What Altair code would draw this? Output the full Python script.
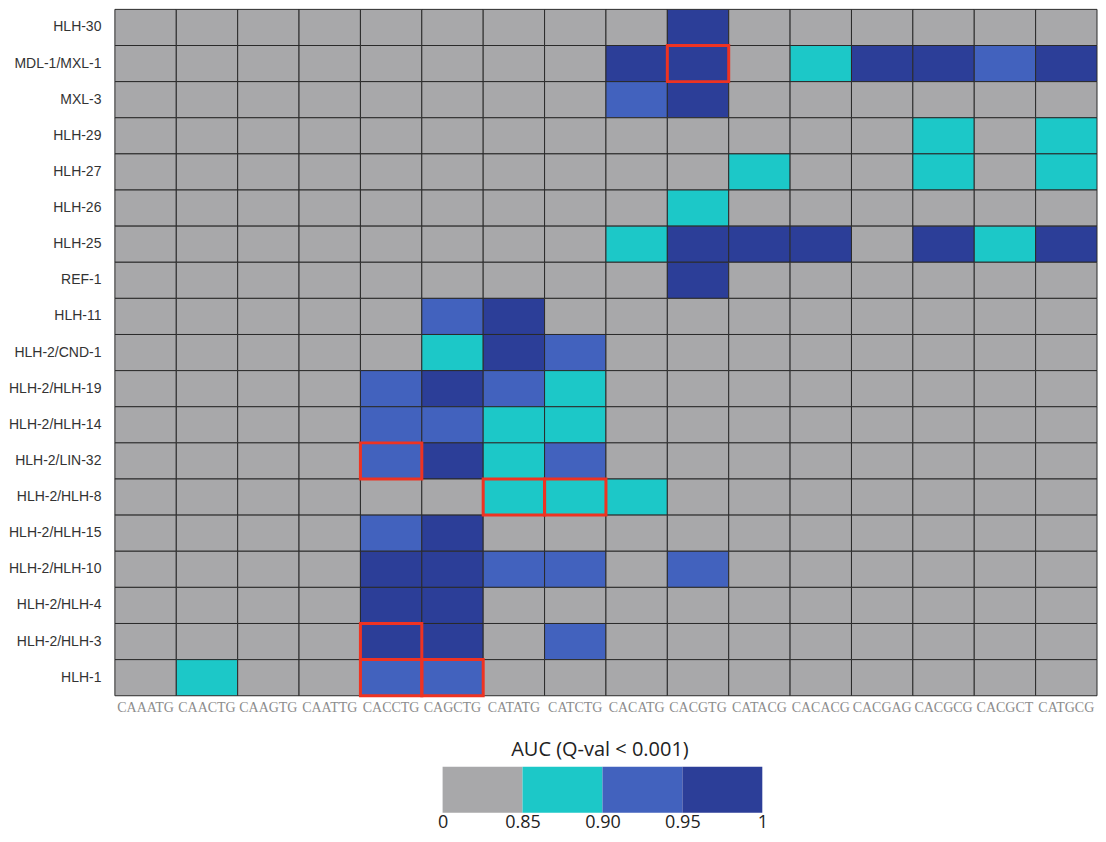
import altair as alt
import pandas as pd

motifs = ["CAAATG", "CAACTG", "CAAGTG", "CAATTG", "CACCTG", "CAGCTG", "CATATG", "CATCTG",
          "CACATG", "CACGTG", "CATACG", "CACACG", "CACGAG", "CACGCG", "CACGCT", "CATGCG"]
factors = ["HLH-30", "MDL-1/MXL-1", "MXL-3", "HLH-29", "HLH-27", "HLH-26", "HLH-25", "REF-1",
           "HLH-11", "HLH-2/CND-1", "HLH-2/HLH-19", "HLH-2/HLH-14", "HLH-2/LIN-32", "HLH-2/HLH-8",
           "HLH-2/HLH-15", "HLH-2/HLH-10", "HLH-2/HLH-4", "HLH-2/HLH-3", "HLH-1"]

# AUC bin per cell: 0 = below 0.85, 1 = 0.85-0.90, 2 = 0.90-0.95, 3 = 0.95-1
auc_bins = [
    [0, 0, 0, 0, 0, 0, 0, 0, 0, 3, 0, 0, 0, 0, 0, 0],  # HLH-30
    [0, 0, 0, 0, 0, 0, 0, 0, 3, 3, 0, 1, 3, 3, 2, 3],  # MDL-1/MXL-1
    [0, 0, 0, 0, 0, 0, 0, 0, 2, 3, 0, 0, 0, 0, 0, 0],  # MXL-3
    [0, 0, 0, 0, 0, 0, 0, 0, 0, 0, 0, 0, 0, 1, 0, 1],  # HLH-29
    [0, 0, 0, 0, 0, 0, 0, 0, 0, 0, 1, 0, 0, 1, 0, 1],  # HLH-27
    [0, 0, 0, 0, 0, 0, 0, 0, 0, 1, 0, 0, 0, 0, 0, 0],  # HLH-26
    [0, 0, 0, 0, 0, 0, 0, 0, 1, 3, 3, 3, 0, 3, 1, 3],  # HLH-25
    [0, 0, 0, 0, 0, 0, 0, 0, 0, 3, 0, 0, 0, 0, 0, 0],  # REF-1
    [0, 0, 0, 0, 0, 2, 3, 0, 0, 0, 0, 0, 0, 0, 0, 0],  # HLH-11
    [0, 0, 0, 0, 0, 1, 3, 2, 0, 0, 0, 0, 0, 0, 0, 0],  # HLH-2/CND-1
    [0, 0, 0, 0, 2, 3, 2, 1, 0, 0, 0, 0, 0, 0, 0, 0],  # HLH-2/HLH-19
    [0, 0, 0, 0, 2, 2, 1, 1, 0, 0, 0, 0, 0, 0, 0, 0],  # HLH-2/HLH-14
    [0, 0, 0, 0, 2, 3, 1, 2, 0, 0, 0, 0, 0, 0, 0, 0],  # HLH-2/LIN-32
    [0, 0, 0, 0, 0, 0, 1, 1, 1, 0, 0, 0, 0, 0, 0, 0],  # HLH-2/HLH-8
    [0, 0, 0, 0, 2, 3, 0, 0, 0, 0, 0, 0, 0, 0, 0, 0],  # HLH-2/HLH-15
    [0, 0, 0, 0, 3, 3, 2, 2, 0, 2, 0, 0, 0, 0, 0, 0],  # HLH-2/HLH-10
    [0, 0, 0, 0, 3, 3, 0, 0, 0, 0, 0, 0, 0, 0, 0, 0],  # HLH-2/HLH-4
    [0, 0, 0, 0, 3, 3, 0, 2, 0, 0, 0, 0, 0, 0, 0, 0],  # HLH-2/HLH-3
    [0, 1, 0, 0, 2, 2, 0, 0, 0, 0, 0, 0, 0, 0, 0, 0],  # HLH-1
]

highlight_factors = ["MDL-1/MXL-1", "HLH-2/LIN-32", "HLH-2/HLH-8", "HLH-2/HLH-8", "HLH-2/HLH-3", "HLH-1", "HLH-1"]
highlight_motifs = ["CACGTG", "CACCTG", "CATATG", "CATCTG", "CACCTG", "CACCTG", "CAGCTG"]

bin_levels = [0, 1, 2, 3]
bin_colors = ["#a8a8aa", "#1cc8c8", "#4262be", "#2c3e98"]
legend_labels = ["0", "0.85", "0.90", "0.95", "1"]
legend_title = "AUC (Q-val < 0.001)"

rows = []
for f, vals in zip(factors, auc_bins):
    for m, v in zip(motifs, vals):
        rows.append({"factor": f, "motif": m, "bin": v})
df = pd.DataFrame(rows)
hl_df = pd.DataFrame({"factor": highlight_factors, "motif": highlight_motifs})

color_scale = alt.Scale(domain=bin_levels, range=bin_colors)

x_enc = alt.X("motif:N", sort=motifs,
              scale=alt.Scale(paddingInner=0, paddingOuter=0),
              axis=alt.Axis(title=None, labelAngle=0, labelFont="Liberation Serif",
                            labelFontSize=14, labelColor="#8c8c8c", ticks=False,
                            domain=False, labelPadding=5, labelOverlap=False,
                            minExtent=20, maxExtent=20))
y_enc = alt.Y("factor:N", sort=factors,
              scale=alt.Scale(paddingInner=0, paddingOuter=0),
              axis=alt.Axis(title=None, ticks=False, domain=False,
                            labelFont="Liberation Sans", labelFontSize=14,
                            labelColor="#333333", labelPadding=14,
                            minExtent=107, maxExtent=107))

cells = alt.Chart(df).mark_rect(stroke="#2a2a2a", strokeWidth=1).encode(
    x=x_enc, y=y_enc,
    color=alt.Color("bin:O", scale=color_scale, legend=None),
)
boxes = alt.Chart(hl_df).mark_rect(fillOpacity=0, stroke="#ee3322", strokeWidth=3).encode(
    x=x_enc, y=y_enc,
)
main = alt.layer(cells, boxes).properties(width=983, height=687)

leg_df = pd.DataFrame({"start": [0, 1, 2, 3], "end": [1, 2, 3, 4], "bin": bin_levels})
label_expr = "[" + ",".join('"%s"' % s for s in legend_labels) + "][datum.value]"
legend = alt.Chart(leg_df).mark_rect().encode(
    x=alt.X("start:Q",
            scale=alt.Scale(domain=[-4.1, 8.1875], nice=False, zero=False),
            axis=alt.Axis(values=[0, 1, 2, 3, 4], labelExpr=label_expr, title=None,
                          ticks=False, domain=False, grid=False, labelFontSize=18,
                          labelFont="Open Sans", labelColor="#222222", labelPadding=1)),
    x2="end:Q",
    color=alt.Color("bin:O", scale=color_scale, legend=None),
).properties(
    width=983, height=46,
    title=alt.TitleParams(legend_title, fontSize=20, font="Open Sans", fontWeight="normal",
                          color="#222222", anchor="middle", dx=-6, offset=7),
)

chart = alt.vconcat(main, legend, spacing=24).properties(
    padding={"left": 0, "top": 0, "right": 0, "bottom": 0},
    background="white",
).configure_view(strokeWidth=0)

chart.save("out.html", embed_options={"renderer": "svg", "actions": False})
